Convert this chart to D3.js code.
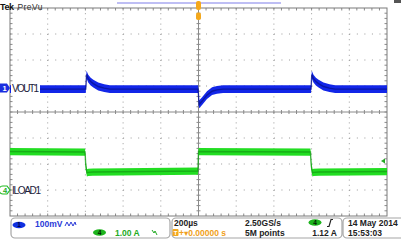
<!DOCTYPE html>
<html>
<head>
<meta charset="utf-8">
<script src="https://cdn.jsdelivr.net/npm/d3@7"></script>
<style>
html, body { margin: 0; padding: 0; background: #fff; overflow: hidden; }
svg { display: block; }
text { font-family: "Liberation Sans", "DejaVu Sans", sans-serif; }
</style>
</head>
<body>
<div id="scope"></div>
<script>
// scope settings
const usPerDiv = 200;
const ch1MvPerDiv = 100;
const ch1Position = 0.92;   // divisions above centre
const ch4APerDiv = 1.0;
const ch4Position = -3.0;
const ch4TriggerLevel = 1.12;

// CH1 VOUT1 (mV, AC) - centre of noisy band
const voutTime = [-1000, -598, -594, -585, -572, -558, -532, -500, -470,
                  -2, 3, 19, 45, 72, 98, 130,
                  597, 601, 610, 623, 637, 663, 695, 725, 1000];
const voutMv   = [-4, -4, 52, 36, 25, 17, 6, 0, -4,
                  -4, -63, -50, -27, -12, -7, -4,
                  -4, 52, 36, 25, 17, 6, 0, -4, -4];
const voutNoiseMv = 15;

// CH4 ILOAD1 (A)
const iloadTime = [-1000, -602, -598, -592, -585, -560, -3, 0, 594, 598, 604, 611, 640, 1000];
const iloadA    = [1.48, 1.46, 0.95, 0.66, 0.68, 0.69, 0.73, 1.48, 1.46, 0.95, 0.66, 0.68, 0.69, 0.71];
const iloadNoiseA = 0.14;

// readouts
const ch1Scale = "100mV";
const ch4Scale = "1.00 A";
const timebase = "200\u00b5s";
const sampleRate = "2.50GS/s";
const triggerDelay = "0.00000 s";
const recordLength = "5M points";
const triggerLevelText = "1.12 A";
const dateText = "14 May 2014";
const timeText = "15:53:03";
const ch1Label = "VOUT1";
const ch4Label = "ILOAD1";

const W = 401, H = 249;
const gx0 = 10, gx1 = 387, gy0 = 8, gy1 = 216;

const svg = d3.select("#scope").append("svg")
    .attr("width", W).attr("height", H);

const x = d3.scaleLinear().domain([-5 * usPerDiv, 5 * usPerDiv]).range([gx0, gx1]);
const yDiv = d3.scaleLinear().domain([-4, 4]).range([gy1, gy0]);
const yV = d3.scaleLinear()
    .domain([(-4 - ch1Position) * ch1MvPerDiv, (4 - ch1Position) * ch1MvPerDiv])
    .range([gy1, gy0]);
const yA = d3.scaleLinear()
    .domain([(-4 - ch4Position) * ch4APerDiv, (4 - ch4Position) * ch4APerDiv])
    .range([gy1, gy0]);

// graticule
const grid = svg.append("g");
const minorX = (gx1 - gx0) / 50, minorY = (gy1 - gy0) / 40;

d3.range(1, 10).filter(i => i !== 5).forEach(i => {
    const xx = x(-1000 + i * usPerDiv);
    grid.append("line").attr("x1", xx).attr("x2", xx).attr("y1", gy0).attr("y2", gy1)
        .attr("stroke", "#9a9a9a").attr("stroke-dasharray", `1 ${minorY - 1}`);
});
d3.range(-3, 4).filter(j => j !== 0).forEach(j => {
    const yy = yDiv(j);
    grid.append("line").attr("x1", gx0).attr("x2", gx1).attr("y1", yy).attr("y2", yy)
        .attr("stroke", "#9a9a9a").attr("stroke-dasharray", `1 ${minorX - 1}`);
});
// centre cross with minor ticks
grid.append("line").attr("x1", gx0).attr("x2", gx1).attr("y1", yDiv(0)).attr("y2", yDiv(0))
    .attr("stroke", "#8a8a8a");
grid.append("line").attr("x1", x(0)).attr("x2", x(0)).attr("y1", gy0).attr("y2", gy1)
    .attr("stroke", "#8a8a8a");
d3.range(1, 50).forEach(k => {
    const xx = gx0 + k * minorX;
    grid.append("line").attr("x1", xx).attr("x2", xx).attr("y1", yDiv(0) - 2).attr("y2", yDiv(0) + 2).attr("stroke", "#8a8a8a");
    grid.append("line").attr("x1", xx).attr("x2", xx).attr("y1", gy0).attr("y2", gy0 + 2.5).attr("stroke", "#8a8a8a");
    grid.append("line").attr("x1", xx).attr("x2", xx).attr("y1", gy1 - 2.5).attr("y2", gy1).attr("stroke", "#8a8a8a");
});
d3.range(1, 40).forEach(k => {
    const yy = gy0 + k * minorY;
    grid.append("line").attr("x1", x(0) - 2).attr("x2", x(0) + 2).attr("y1", yy).attr("y2", yy).attr("stroke", "#8a8a8a");
    grid.append("line").attr("x1", gx0).attr("x2", gx0 + 2.5).attr("y1", yy).attr("y2", yy).attr("stroke", "#8a8a8a");
    grid.append("line").attr("x1", gx1 - 2.5).attr("x2", gx1).attr("y1", yy).attr("y2", yy).attr("stroke", "#8a8a8a");
});
grid.append("rect").attr("x", gx0).attr("y", gy0).attr("width", gx1 - gx0).attr("height", gy1 - gy0)
    .attr("fill", "none").attr("stroke", "#7a7a7a");

// waveforms
svg.append("clipPath").attr("id", "clip").append("rect")
    .attr("x", gx0).attr("y", gy0).attr("width", gx1 - gx0).attr("height", gy1 - gy0);
const traces = svg.append("g").attr("clip-path", "url(#clip)");

const vout = voutTime.map((t, i) => ({ t, v: voutMv[i] }));
const iload = iloadTime.map((t, i) => ({ t, v: iloadA[i] }));

traces.append("path").datum(iload)
    .attr("fill", "#22dd22")
    .attr("d", d3.area().x(d => x(d.t)).y0(d => yA(d.v - iloadNoiseA)).y1(d => yA(d.v + iloadNoiseA)));
traces.append("path").datum(iload)
    .attr("fill", "none").attr("stroke", "#129a12").attr("stroke-width", 1.4).attr("stroke-opacity", 0.7)
    .attr("d", d3.line().x(d => x(d.t)).y(d => yA(d.v)));

traces.append("path").datum(vout)
    .attr("fill", "#1226e8")
    .attr("d", d3.area().x(d => x(d.t)).y0(d => yV(d.v - voutNoiseMv)).y1(d => yV(d.v + voutNoiseMv)));
traces.append("path").datum(vout)
    .attr("fill", "none").attr("stroke", "#06108a").attr("stroke-width", 1.4).attr("stroke-opacity", 0.7)
    .attr("d", d3.line().x(d => x(d.t)).y(d => yV(d.v)));

// channel markers and labels
const y1m = yV(0), y4m = yA(0);
svg.append("rect").attr("x", gx0 + 1).attr("y", y1m - 5).attr("width", 29).attr("height", 10).attr("fill", "#fff");
svg.append("path").attr("d", `M0,${y1m - 4.5}H7L10,${y1m}L7,${y1m + 4.5}H0Z`).attr("fill", "#1a2ee0");
svg.append("text").attr("x", 4.5).attr("y", y1m + 3).attr("font-size", 7.5).attr("font-weight", "bold")
    .attr("fill", "#fff").attr("text-anchor", "middle").text("1");
svg.append("text").attr("x", 12).attr("y", y1m + 4).attr("font-size", 10).attr("fill", "#20203a")
    .attr("textLength", 27).text(ch1Label);

svg.append("path").attr("d", `M3,${y4m - 4}H7L10,${y4m}L7,${y4m + 4}H3A4,4 0 0 1 3,${y4m - 4}Z`)
    .attr("fill", "#fff").attr("stroke", "#22bb22").attr("stroke-width", 1.2);
svg.append("text").attr("x", 5.2).attr("y", y4m + 3).attr("font-size", 7.5).attr("font-weight", "bold")
    .attr("fill", "#22aa22").attr("text-anchor", "middle").text("4");
svg.append("text").attr("x", 12).attr("y", y4m + 4).attr("font-size", 10).attr("fill", "#20203a")
    .attr("textLength", 29).text(ch4Label);

// trigger level marker on right
const yt = yA(ch4TriggerLevel);
svg.append("path").attr("d", `M381,${yt}L385,${yt - 2.5}V${yt + 2.5}Z`).attr("fill", "#22aa22");

// top bar
svg.append("text").attr("x", 0).attr("y", 10).attr("font-size", 9).attr("font-weight", "bold")
    .attr("fill", "#111").attr("textLength", 14).text("Tek");
svg.append("text").attr("x", 17.5).attr("y", 10).attr("font-size", 8.5).attr("fill", "#333")
    .attr("textLength", 25).text("PreVu");
svg.append("line").attr("x1", 117).attr("x2", 281).attr("y1", 3).attr("y2", 3)
    .attr("stroke", "#a8a8f0").attr("stroke-width", 1.6);
svg.append("rect").attr("x", x(0) - 2.5).attr("y", 1).attr("width", 5).attr("height", 9).attr("rx", 2)
    .attr("fill", "#f4a81c");
svg.append("rect").attr("x", x(0) - 2.5).attr("y", 12.5).attr("width", 5).attr("height", 7.5).attr("rx", 2)
    .attr("fill", "#f4a81c");
svg.append("rect").attr("x", 394).attr("y", 0).attr("width", 7).attr("height", 3).attr("fill", "#555");

// readout boxes
const info = svg.append("g");
[[11, 159], [172, 170], [343, 62]].forEach(([bx, bw]) => {
    info.append("rect").attr("x", bx).attr("y", 218).attr("width", bw).attr("height", 20).attr("rx", 4)
        .attr("fill", "#fff").attr("stroke", "#a6a6a6").attr("stroke-width", 1.2);
});
const fs = 8.5;
function txt(tx, ty, s, color, extra) {
    const t = info.append("text").attr("x", tx).attr("y", ty).attr("font-size", fs)
        .attr("font-weight", "bold").attr("fill", color).text(s);
    if (extra) extra(t);
    return t;
}
// CH1 readout
info.append("ellipse").attr("cx", 19).attr("cy", 225).attr("rx", 6.5).attr("ry", 3.3).attr("fill", "#1030e0");
txt(19, 227.3, "1", "#000040", t => t.attr("font-size", 6.5).attr("text-anchor", "middle"));
txt(35, 227, ch1Scale, "#2a3ad8");
info.append("path").attr("d", "M65,226L67,222L69,226L71,222L73,226L75,222L76,225")
    .attr("fill", "none").attr("stroke", "#2a3ad8").attr("stroke-width", 1);
// CH4 readout
info.append("ellipse").attr("cx", 99.5).attr("cy", 232.5).attr("rx", 6.5).attr("ry", 3.3).attr("fill", "#1db41d");
txt(99.5, 234.8, "4", "#002000", t => t.attr("font-size", 6.5).attr("text-anchor", "middle"));
txt(115, 235.5, ch4Scale, "#22aa22");
info.append("path").attr("d", "M152,230L154,233L155,231L157,235")
    .attr("fill", "none").attr("stroke", "#22aa22").attr("stroke-width", 1);
// timebase / trigger
txt(174, 226, timebase, "#222");
txt(245, 226, sampleRate, "#222");
info.append("ellipse").attr("cx", 315).attr("cy", 222.5).attr("rx", 6.5).attr("ry", 3.3).attr("fill", "#1db41d");
txt(315, 224.8, "4", "#002000", t => t.attr("font-size", 6.5).attr("text-anchor", "middle"));
info.append("path").attr("d", "M327,226.5H329L331,219.5H333")
    .attr("fill", "none").attr("stroke", "#222").attr("stroke-width", 1.2);
info.append("rect").attr("x", 172.5).attr("y", 229).attr("width", 6).attr("height", 7).attr("rx", 1)
    .attr("fill", "#f4a81c");
txt(175.5, 234.8, "T", "#fff", t => t.attr("font-size", 6).attr("text-anchor", "middle"));
txt(179, 235.5, "+\u25be" + triggerDelay, "#f0a020");
txt(245, 235.5, recordLength, "#222");
txt(337, 235.5, triggerLevelText, "#222", t => t.attr("text-anchor", "end"));
// date / time
txt(348, 226, dateText, "#222");
txt(348, 235.5, timeText, "#222");
</script>
</body>
</html>
